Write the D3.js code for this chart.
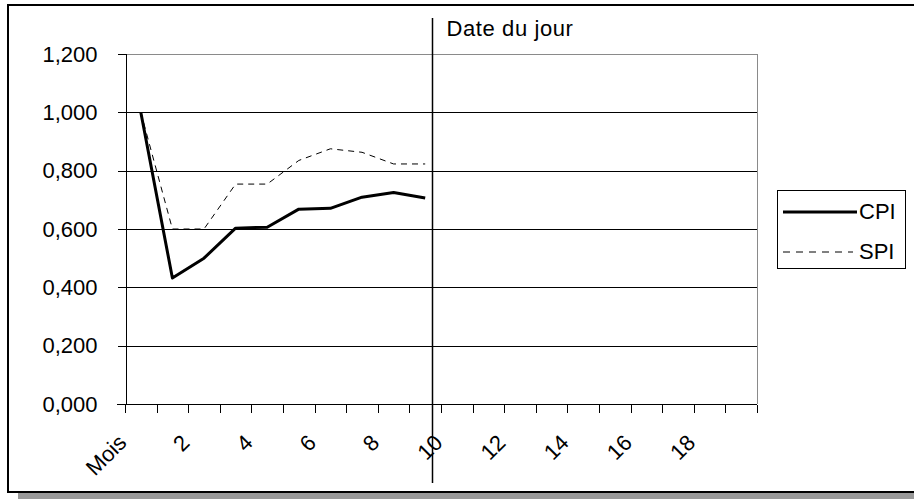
<!DOCTYPE html>
<html>
<head>
<meta charset="utf-8">
<script src="https://cdn.jsdelivr.net/npm/d3@7/dist/d3.min.js"></script>
<style>
  body { margin: 0; background: #fff; }
  text { font-family: "Liberation Sans", Arial, sans-serif; fill: #000; }
</style>
</head>
<body>
<div id="chart"></div>
<script>
// Data
const categories = ["Mois", "1", "2", "3", "4", "5", "6", "7", "8", "9",
                    "10", "11", "12", "13", "14", "15", "16", "17", "18", "19"];
const cpi = [1.000, 0.432, 0.500, 0.603, 0.606, 0.668, 0.671, 0.709, 0.725, 0.706];
const spi = [1.000, 0.600, 0.600, 0.754, 0.754, 0.835, 0.875, 0.863, 0.823, 0.823];
const yTicks = [0, 0.2, 0.4, 0.6, 0.8, 1.0, 1.2];
const dateDuJour = 9.7; // position on the category axis

const W = 914, H = 499;
const plot = { left: 125, right: 757, top: 54, bottom: 404 };

const svg = d3.select("#chart").append("svg")
    .attr("width", W)
    .attr("height", H);

// frame + shadow
svg.append("rect")
    .attr("x", 18).attr("y", 12)
    .attr("width", 1000).attr("height", 490)
    .attr("fill", "#999");
svg.append("rect")
    .attr("x", 8).attr("y", 5)
    .attr("width", 1000).attr("height", 487)
    .attr("fill", "#fff")
    .attr("stroke", "#000")
    .attr("stroke-width", 2);

const x = d3.scaleLinear().domain([0, categories.length]).range([plot.left, plot.right]);
const y = d3.scaleLinear().domain([0, 1.2]).range([plot.bottom, plot.top]);
const fmt = v => d3.format(".3f")(v).replace(".", ",");

// gridlines
svg.append("g")
    .selectAll("line")
    .data(yTicks.filter(t => t > 0 && t < 1.2))
    .enter().append("line")
    .attr("x1", plot.left).attr("x2", plot.right)
    .attr("y1", d => Math.round(y(d)) + 0.5).attr("y2", d => Math.round(y(d)) + 0.5)
    .attr("stroke", "#000")
    .attr("shape-rendering", "crispEdges");

// plot border (top / right)
svg.append("path")
    .attr("d", `M${plot.left},${plot.top + 0.5}H${plot.right + 0.5}V${plot.bottom}`)
    .attr("fill", "none")
    .attr("stroke", "#8a8a8a")
    .attr("shape-rendering", "crispEdges");

// y axis
const yAxis = d3.axisLeft(y).tickValues(yTicks).tickSize(8).tickPadding(20).tickFormat(fmt);
const gy = svg.append("g")
    .attr("transform", `translate(${plot.left + 0.5},0)`)
    .call(yAxis);
gy.select(".domain").attr("stroke", "#000").attr("shape-rendering", "crispEdges");
gy.selectAll(".tick line").attr("stroke", "#000").attr("shape-rendering", "crispEdges");
gy.selectAll(".tick text")
    .attr("font-size", 22)
    .attr("font-family", "'Liberation Sans', Arial, sans-serif");

// x axis (ticks between categories)
const xAxis = d3.axisBottom(x).tickValues(d3.range(0, categories.length + 1)).tickSize(8).tickFormat("");
const gx = svg.append("g")
    .attr("transform", `translate(0,${Math.round(y(0)) + 0.5})`)
    .call(xAxis);
gx.select(".domain").attr("d", `M${plot.left - 8},0H${plot.right}`)
    .attr("stroke", "#000").attr("shape-rendering", "crispEdges");
gx.selectAll(".tick line").attr("stroke", "#000").attr("shape-rendering", "crispEdges");
gx.selectAll(".tick").attr("transform", d => `translate(${Math.round(x(d)) + 0.5},0)`);

// x labels, rotated, every other category
svg.append("g")
    .selectAll("text")
    .data(categories.map((c, i) => ({ c, i })).filter(d => d.i % 2 === 0))
    .enter().append("text")
    .attr("transform", d => `translate(${x(d.i + 0.5) - 13},444) rotate(-45)`)
    .attr("text-anchor", "end")
    .attr("font-size", 22)
    .text(d => d.c);

// series
const line = d3.line()
    .x((d, i) => x(i + 0.5))
    .y(d => y(d));

svg.append("path")
    .datum(spi)
    .attr("d", line)
    .attr("fill", "none")
    .attr("stroke", "#000")
    .attr("stroke-width", 1)
    .attr("stroke-dasharray", "6,5");

svg.append("path")
    .datum(cpi)
    .attr("d", line)
    .attr("fill", "none")
    .attr("stroke", "#000")
    .attr("stroke-width", 3)
    .attr("stroke-linejoin", "round");

// "Date du jour" marker
const xd = Math.round(x(dateDuJour)) + 0.5;
svg.append("line")
    .attr("x1", xd).attr("x2", xd)
    .attr("y1", 18).attr("y2", 483)
    .attr("stroke", "#000")
    .attr("stroke-width", 1.5);
svg.append("text")
    .attr("x", xd + 14).attr("y", 36)
    .attr("font-size", 22)
    .attr("letter-spacing", 0.6)
    .text("Date du jour");

// legend
const legend = svg.append("g").attr("transform", "translate(777,190)");
legend.append("rect")
    .attr("x", 0.5).attr("y", 0.5)
    .attr("width", 128).attr("height", 78)
    .attr("fill", "#fff")
    .attr("stroke", "#000")
    .attr("shape-rendering", "crispEdges");
const legendItems = [
    { name: "CPI", width: 3, dash: null },
    { name: "SPI", width: 1, dash: "7,6" }
];
legendItems.forEach((d, i) => {
    const ly = 22 + i * 40;
    legend.append("line")
        .attr("x1", 6).attr("x2", i === 0 ? 80 : 76)
        .attr("y1", ly).attr("y2", ly)
        .attr("stroke", "#000")
        .attr("stroke-width", d.width)
        .attr("stroke-dasharray", d.dash);
    legend.append("text")
        .attr("x", 82).attr("y", ly + 7)
        .attr("font-size", 22)
        .text(d.name);
});
</script>
</body>
</html>
